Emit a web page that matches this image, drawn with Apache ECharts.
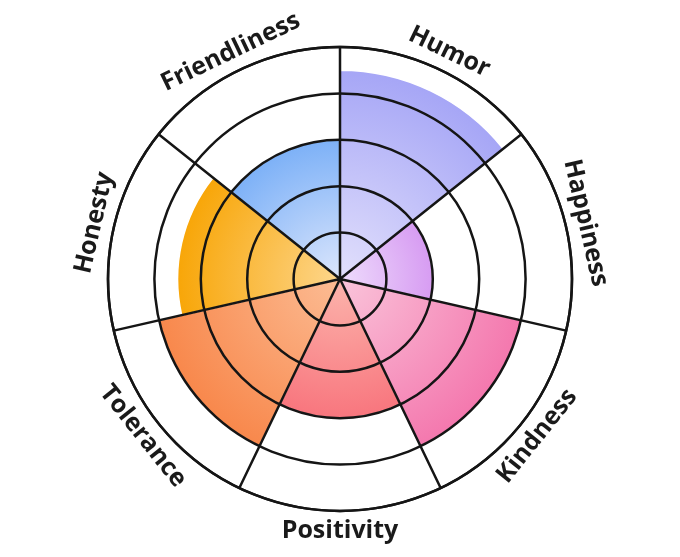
<!DOCTYPE html>
<html>
<head>
<meta charset="utf-8">
<script src="https://cdn.jsdelivr.net/npm/echarts@6/dist/echarts.min.js"></script>
<style>
  html, body { margin: 0; padding: 0; background: #fff; }
  #chart { width: 680px; height: 557px; }
</style>
</head>
<body>
<div id="chart"></div>
<script>
// categories, clockwise from the top
const traits = ['Humor', 'Happiness', 'Kindness', 'Positivity', 'Tolerance', 'Honesty', 'Friendliness'];
const scores = [4.5, 2, 4, 3, 4, 3.5, 3];
const maxScore = 5;
// gradient colours: inner (near centre) -> outer
const innerColors = ['#e2e0fc', '#eedcfc', '#fac4da', '#fcb4ac', '#fcbc94', '#fdd68c', '#dce6fc'];
const outerColors = ['#a6a6f6', '#d79cf2', '#f478ae', '#f8767e', '#f8884c', '#f8a608', '#7db1f7'];

const cx = 340, cy = 279, outerR = 232;
const labelGap = 20; // px from the outer ring to the label centre

const chart = echarts.init(document.getElementById('chart'));

const barData = scores.map((v, i) => ({
  value: v,
  itemStyle: {
    color: {
      type: 'radial', x: cx, y: cy, r: v / maxScore * outerR, global: true,
      colorStops: [
        { offset: 0, color: innerColors[i] },
        { offset: 1, color: outerColors[i] }
      ]
    }
  }
}));

// labels set tangent to the ring, flipped on the lower half so they stay readable
function renderLabel(params, api) {
  const cs = params.coordSys;
  const pt = api.coord([api.value(0), api.value(1)]);
  const dx = pt[0] - cs.cx, dy = pt[1] - cs.cy;
  const r = Math.sqrt(dx * dx + dy * dy);
  const k = (r + labelGap) / r;
  const theta = Math.atan2(-dy, dx);
  let rot = theta - Math.PI / 2;
  while (rot > Math.PI) rot -= 2 * Math.PI;
  while (rot <= -Math.PI) rot += 2 * Math.PI;
  if (rot > Math.PI / 2 + 1e-6) rot -= Math.PI;
  else if (rot < -Math.PI / 2 - 1e-6) rot += Math.PI;
  return {
    type: 'text',
    x: cs.cx + dx * k,
    y: cs.cy + dy * k,
    rotation: rot,
    style: {
      text: traits[params.dataIndex],
      fontFamily: 'Open Sans',
      fontWeight: 'bold',
      fontSize: 25,
      fill: '#1a1a1a',
      align: 'center',
      verticalAlign: 'middle'
    }
  };
}

chart.setOption({
  animation: false,
  polar: { center: [cx, cy], radius: [0, outerR] },
  angleAxis: {
    type: 'category',
    data: traits,
    startAngle: 90,
    clockwise: true,
    z: 10,
    axisLine: { lineStyle: { color: '#151515', width: 2.5 } },
    axisTick: { show: false },
    axisLabel: { show: false },
    splitLine: { show: true, lineStyle: { color: '#151515', width: 2.5 } }
  },
  radiusAxis: {
    type: 'value',
    min: 0,
    max: maxScore,
    interval: 1,
    z: 10,
    axisLine: { show: false },
    axisTick: { show: false },
    axisLabel: { show: false },
    splitLine: { show: true, lineStyle: { color: '#151515', width: 2.5 } }
  },
  series: [
    {
      type: 'bar',
      coordinateSystem: 'polar',
      data: barData,
      barCategoryGap: 0,
      itemStyle: { borderColor: '#fff', borderWidth: 1.5 }
    },
    {
      type: 'custom',
      coordinateSystem: 'polar',
      silent: true,
      z: 20,
      data: traits.map((t, i) => [maxScore, i]),
      encode: { radius: 0, angle: 1 },
      renderItem: renderLabel
    }
  ]
});
</script>
</body>
</html>
